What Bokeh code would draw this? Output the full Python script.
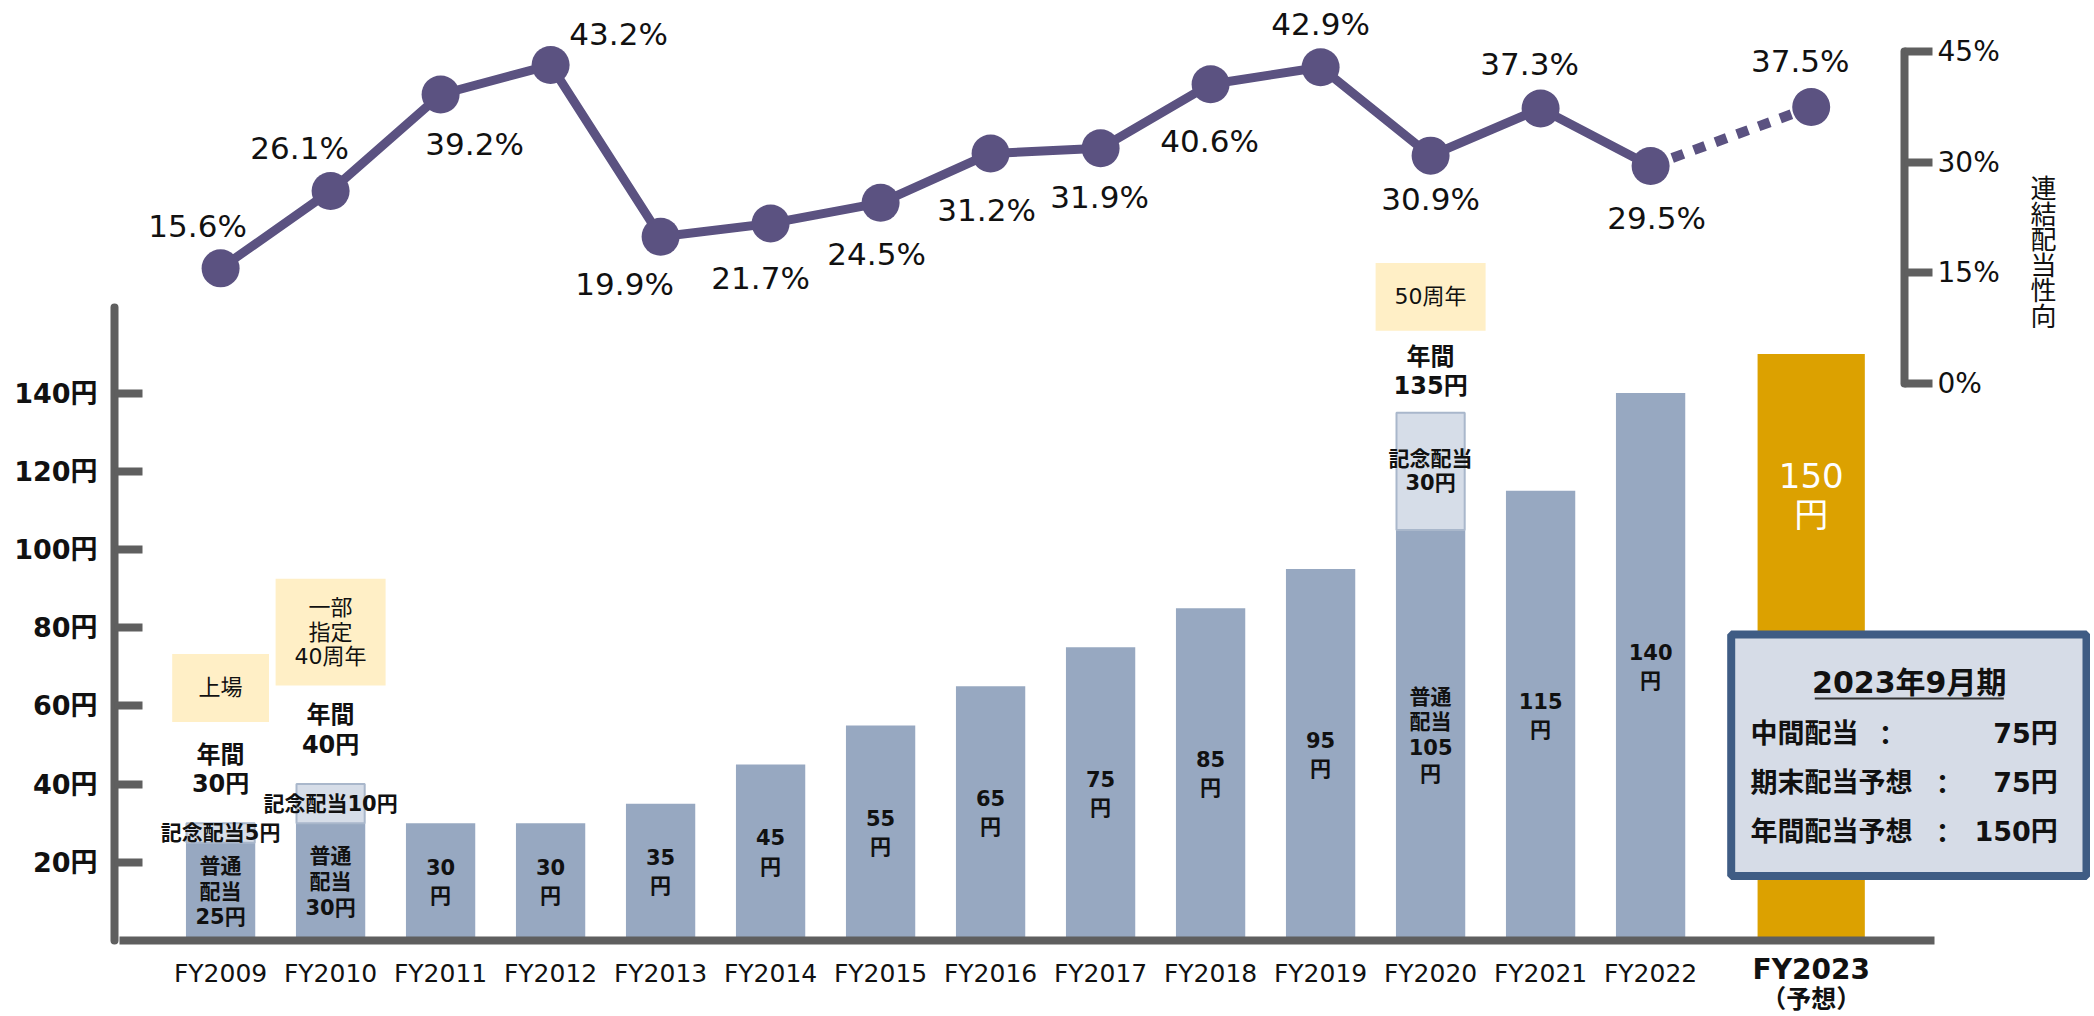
from bokeh.plotting import figure
from bokeh.models import (Range1d, LinearAxis, FixedTicker, PrintfTickFormatter,
                          ColumnDataSource)
from bokeh.core.properties import value
from bokeh.embed import file_html
from bokeh.resources import INLINE

# ---------------- data ----------------
years = ["FY2009", "FY2010", "FY2011", "FY2012", "FY2013", "FY2014", "FY2015",
         "FY2016", "FY2017", "FY2018", "FY2019", "FY2020", "FY2021", "FY2022", "FY2023"]
regular_dividend = [25, 30, 30, 30, 35, 45, 55, 65, 75, 85, 95, 105, 115, 140, 150]
commemorative_dividend = [5, 10, 0, 0, 0, 0, 0, 0, 0, 0, 0, 30, 0, 0, 0]
payout_ratio = [15.6, 26.1, 39.2, 43.2, 19.9, 21.7, 24.5, 31.2, 31.9, 40.6, 42.9,
                30.9, 37.3, 29.5, 37.5]
event_years = ["FY2009", "FY2010", "FY2020"]
event_texts = ["上場", "一部\n指定\n40周年", "50周年"]
forecast_year = "FY2023"
forecast_note = "（予想）"
box_title = "2023年9月期"
box_items = ["中間配当", "期末配当予想", "年間配当予想"]
box_values = [75, 75, 150]
yen_ticks = [20, 40, 60, 80, 100, 120, 140]
pct_ticks = [0, 15, 30, 45]
pct_axis_title = "連結配当性向"

# ---------------- geometry / style ----------------
W, H = 2090, 1016
FRAME_L, FRAME_R = 114, 2090        # page pixels
BASE_PX = 940                        # page y of the 0-yen baseline
X0_PX, DX_PX = 220.1, 110.0
YEN_PX = 3.91
PCT0_PX, PCT_PX = 382.8, 7.367
FORECAST_GAP = 0.46


def xd(px):
    return (px - X0_PX) / DX_PX


def yd(px):
    return (BASE_PX - px) / YEN_PX


def pdv(px):
    return (PCT0_PX - px) / PCT_PX


FONT = "DejaVu Sans, Noto Sans CJK JP"
CJK = "Noto Sans CJK JP, DejaVu Sans"
BAR = "#97A8C1"
BAR_LIGHT = "#D6DDE8"
BAR_LIGHT_LINE = "#A9B7CB"
GOLD = "#DCA100"
EVENT_FILL = "#FFEFC6"
LINE = "#5B5281"
AXIS = "#5F5F5F"
BOX_FILL = "#D6DCE7"
BOX_LINE = "#3F5C84"
TXT = "#111111"

n = len(years)
fi = years.index(forecast_year)
xs = [i + (FORECAST_GAP if years[i] == forecast_year else 0) for i in range(n)]
totals = [r + c for r, c in zip(regular_dividend, commemorative_dividend)]

p = figure(width=W, height=H, title=None, output_backend="svg", toolbar_location=None,
           x_range=Range1d(xd(FRAME_L), xd(FRAME_R)),
           y_range=Range1d(yd(H), yd(0)),
           min_border_left=FRAME_L, min_border_right=W - FRAME_R, min_border_top=0,
           min_border_bottom=0)
p.extra_y_ranges = {"pct": Range1d(pdv(H), pdv(0))}
p.xgrid.visible = False
p.ygrid.visible = False
p.outline_line_color = None
p.background_fill_color = "white"
p.border_fill_color = "white"

# ---------------- bars ----------------
bar_src = ColumnDataSource(dict(
    x=xs, top=regular_dividend,
    w=[0.975 if y == forecast_year else 0.63 for y in years],
    c=[GOLD if y == forecast_year else BAR for y in years]))
p.vbar(x="x", top="top", bottom=0, width="w", fill_color="c", line_color=None, source=bar_src)

ci = [i for i in range(n) if commemorative_dividend[i] > 0]
p.vbar(x=[xs[i] for i in ci], bottom=[regular_dividend[i] for i in ci],
       top=[totals[i] for i in ci], width=0.62, fill_color=BAR_LIGHT,
       line_color=BAR_LIGHT_LINE, line_width=2)

# event boxes
ev_w = {"FY2009": 0.88, "FY2010": 1.0, "FY2020": 1.0}
ev_h = {"FY2009": 17.4, "FY2010": 27.3, "FY2020": 17.3}
ev_y = {"FY2009": 64.6, "FY2010": 78.85, "FY2020": 164.6}
ev_x = [xs[years.index(y)] for y in event_years]
p.rect(x=ev_x, y=[ev_y[y] for y in event_years], width=[ev_w[y] for y in event_years],
       height=[ev_h[y] for y in event_years], fill_color=EVENT_FILL, line_color=None)
p.text(x=ev_x, y=[ev_y[y] for y in event_years], text=event_texts,
       text_font=value(FONT), text_font_size="22px", text_align="center",
       text_baseline="middle", text_line_height=0.98, text_color=TXT)

# labels inside bars
st_x, st_y, st_t = [], [], []      # regular + commemorative split bars
vl_x, vl_y, vl_t = [], [], []      # plain bars
for i in range(n):
    if i == fi:
        continue
    r = regular_dividend[i]
    if commemorative_dividend[i] > 0:
        st_x.append(xs[i]); st_y.append(r / 2)
        st_t.append(f"普通\n配当\n{r}円" if r < 100 else f"普通\n配当\n{r}\n円")
    else:
        vl_x.append(xs[i]); vl_y.append(r / 2); vl_t.append(f"{r}\n円")
p.text(x=st_x, y=st_y, text=st_t, text_font=value(FONT), text_font_size="21px",
       text_font_style="bold", text_align="center", text_baseline="middle",
       text_line_height=1.07, text_color=TXT)
p.text(x=vl_x, y=vl_y, text=vl_t, text_font=value(FONT), text_font_size="21px",
       text_font_style="bold", text_align="center", text_baseline="middle",
       text_line_height=1.17, text_color=TXT)

# forecast value label
p.text(x=[xs[fi]], y=[yd(494.7)], text=[f"{regular_dividend[fi]}\n円"],
       text_font=value(FONT), text_font_size="34px", text_align="center",
       text_baseline="middle", text_line_height=0.98, text_color="white")

# commemorative labels
cm_t = [f"記念配当{commemorative_dividend[i]}円" if commemorative_dividend[i] < 20
        else f"記念配当\n{commemorative_dividend[i]}円" for i in ci]
p.text(x=[xs[i] for i in ci],
       y=[regular_dividend[i] + commemorative_dividend[i] / 2 for i in ci],
       text=cm_t, text_font=value(FONT), text_font_size="21px", text_font_style="bold",
       text_align="center", text_baseline="middle", text_line_height=1.0, text_color=TXT)

# annual totals
tot_off = [-54, -54, -41]
p.text(x=[xs[i] for i in ci], y=[totals[i] for i in ci],
       text=[f"年間\n{totals[i]}円" for i in ci], y_offset=tot_off,
       text_font=value(FONT), text_font_size="24px", text_font_style="bold",
       text_align="center", text_baseline="middle", text_line_height=1.05, text_color=TXT)

# ---------------- payout line ----------------
p.line(xs[:fi], payout_ratio[:fi], y_range_name="pct", line_color=LINE, line_width=9,
       line_join="round")
p.line(xs[fi - 1:fi + 1], payout_ratio[fi - 1:fi + 1], y_range_name="pct",
       line_color=LINE, line_width=10, line_dash="12 11")
p.scatter(xs, payout_ratio, y_range_name="pct", size=38, fill_color=LINE, line_color=None)

pct_dx = [-23, -31, 34, 68, -36, -10, -4, -4, -1, -1, 0, 0, -11, 6, -11]
pct_dy = [-42, -43, 49, -31, 47, 55, 51, 57, 49, 57, -43, 43, -45, 52, -46]
p.text(x=xs, y=payout_ratio, y_range_name="pct", text=[f"{v:.1f}%" for v in payout_ratio],
       x_offset=pct_dx, y_offset=pct_dy, text_font=value(FONT), text_font_size="31px",
       text_align="center", text_baseline="middle", text_color=TXT)

# ---------------- axes ----------------
ya = p.yaxis[0]
ya.ticker = FixedTicker(ticks=yen_ticks)
ya.formatter = PrintfTickFormatter(format="%d円")
ya.bounds = (0, 162)
ya.axis_line_width = 8
ya.axis_line_color = AXIS
ya.axis_line_cap = "round"
ya.major_tick_in = 28
ya.major_tick_out = 0
ya.major_tick_line_width = 8
ya.major_tick_line_color = AXIS
ya.minor_tick_line_color = None
ya.major_label_text_font = FONT
ya.major_label_text_font_size = "27px"
ya.major_label_text_font_style = "bold"
ya.major_label_text_color = TXT
ya.major_label_standoff = 17

xa = p.xaxis[0]
xa.fixed_location = 0
xa.ticker = FixedTicker(ticks=list(range(fi)))
xa.major_label_overrides = {i: years[i] for i in range(fi)}
xa.bounds = (xd(119), xd(1934))
xa.axis_line_width = 8
xa.axis_line_color = AXIS
xa.major_tick_line_color = None
xa.minor_tick_line_color = None
xa.major_tick_in = 0
xa.major_tick_out = 0
xa.major_label_text_font = FONT
xa.major_label_text_font_size = "25px"
xa.major_label_text_color = TXT
xa.major_label_standoff = 18

# forecast year label (bold) with note
p.text(x=[xs[fi]], y=[yd(969)], text=[forecast_year], text_font=value(FONT),
       text_font_size="28px", text_font_style="bold", text_align="center",
       text_baseline="middle", text_color=TXT)
p.text(x=[xs[fi]], y=[yd(996)], text=[forecast_note], text_font=value(CJK),
       text_font_size="25px", text_font_style="bold", text_align="center",
       text_baseline="middle", text_color=TXT)

ra = LinearAxis(y_range_name="pct", fixed_location=xd(1904), bounds=(0, 45),
                ticker=FixedTicker(ticks=pct_ticks),
                formatter=PrintfTickFormatter(format="%d%%"))
ra.axis_line_width = 8
ra.axis_line_color = AXIS
ra.axis_line_cap = "round"
ra.major_tick_in = 0
ra.major_tick_out = 28
ra.major_tick_line_width = 8
ra.major_tick_line_color = AXIS
ra.minor_tick_line_color = None
ra.major_label_text_font = FONT
ra.major_label_text_font_size = "28px"
ra.major_label_text_color = TXT
ra.major_label_standoff = 5
p.add_layout(ra, "right")

p.text(x=[xd(2043)], y=[18.0], y_range_name="pct", text=["\n".join(pct_axis_title)],
       text_font=value(CJK), text_font_size="26px", text_align="center",
       text_baseline="middle", text_line_height=0.69, text_color=TXT)

# ---------------- info box ----------------
p.quad(left=xd(1730.7), right=xd(2086), top=yd(634), bottom=yd(875.4),
       fill_color=BOX_FILL, line_color=BOX_LINE, line_width=8)
p.text(x=[xd(1908.8)], y=[yd(682)], text=[box_title], text_font=value(FONT),
       text_font_size="30px", text_font_style="bold", text_align="center",
       text_baseline="middle", text_color=TXT)
p.segment(x0=[xd(1814.3)], x1=[xd(2003.3)], y0=[yd(698)], y1=[yd(698)],
          line_color="#333333", line_width=2)
row_y = [yd(732.6), yd(781.6), yd(830.6)]
p.text(x=[xd(1750)] * 3, y=row_y, text=box_items, text_font=value(FONT),
       text_font_size="27px", text_font_style="bold", text_align="left",
       text_baseline="middle", text_color=TXT)
p.text(x=[xd(1885), xd(1942), xd(1942)], y=row_y, text=["：", "：", "："],
       text_font=value(CJK), text_font_size="27px", text_font_style="bold",
       text_align="center", text_baseline="middle", text_color=TXT)
p.text(x=[xd(2057.3)] * 3, y=row_y, text=[f"{v}円" for v in box_values],
       text_font=value(FONT), text_font_size="27px", text_font_style="bold",
       text_align="right", text_baseline="middle", text_color=TXT)

open("out.html", "w").write(file_html(p, INLINE))
